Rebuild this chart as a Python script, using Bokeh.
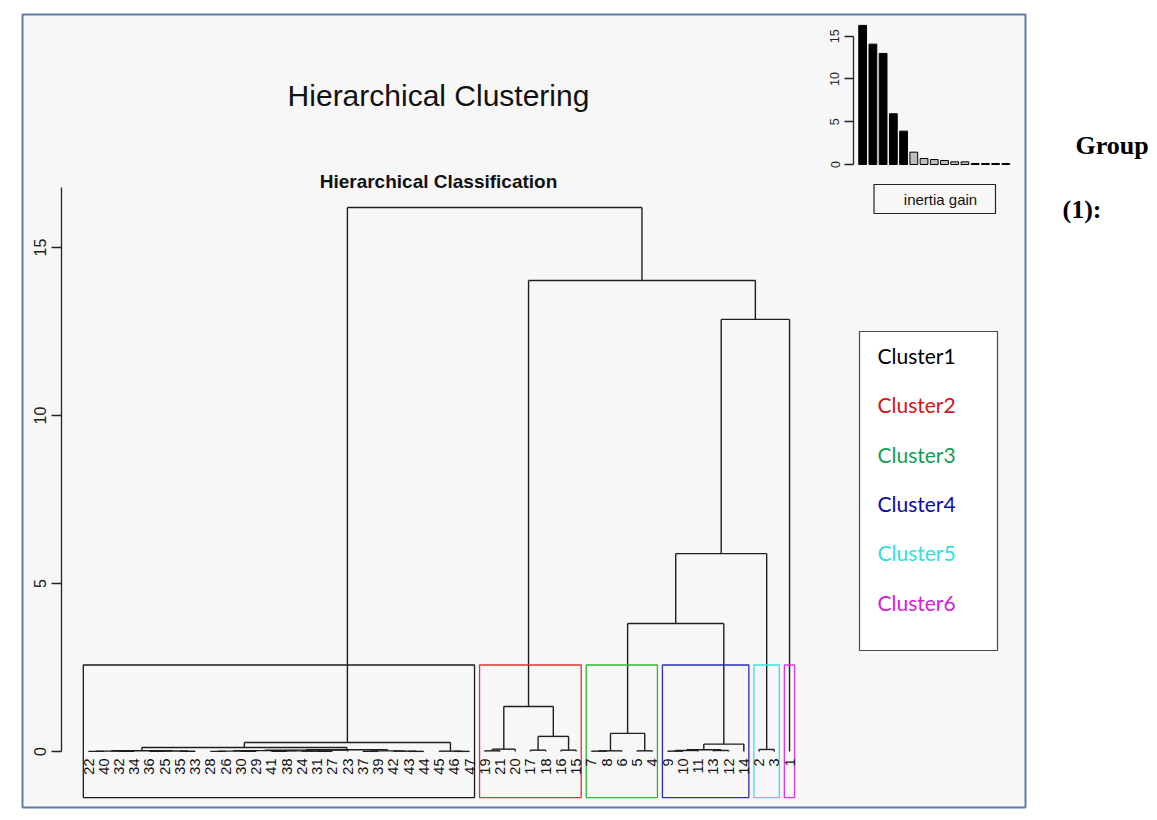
import math
from bokeh.plotting import figure
from bokeh.models import Range1d, LinearAxis, FixedTicker
from bokeh.core.properties import value
from bokeh.embed import file_html
from bokeh.resources import INLINE

# ---------------- data ----------------
leaf_order = [22, 40, 32, 34, 36, 25, 35, 33, 28, 26, 30, 29, 41, 38, 24, 31, 27, 23,
              37, 39, 42, 43, 44, 45, 46, 47, 19, 21, 20, 17, 18, 16, 15, 7, 8, 6, 5, 4,
              9, 10, 11, 13, 12, 14, 2, 3, 1]

# hclust-style merge table: negative = observation label, positive = merge step (1-based)
merge_left = [-22, -32, -36, -35, 1, 3, 5, -28, -30, 8, -41, -31, -24, 11, 10, 15,
              -37, -43, -42, 17, 16, 7, -46, -45, 22,
              -19, 26, -17, -16, 28, 27,
              -7, 32, -5, 33,
              -9, 36, -13, 37, 39,
              -2,
              35, 42, 43, 31, 25]
merge_right = [-40, -34, -25, -33, 2, 4, 6, -26, -29, 9, -38, -27, 12, 13, 14, -23,
               -39, -44, 18, 19, 20, 21, -47, 23, 24,
               -21, -20, -18, -15, 29, 30,
               -8, -6, -4, 34,
               -10, -11, -12, 38, -14,
               -3,
               40, 41, -1, 44, 45]
merge_height = [0.004, 0.006, 0.005, 0.007, 0.012, 0.014, 0.022, 0.004, 0.006, 0.012,
                0.006, 0.005, 0.010, 0.018, 0.025, 0.040, 0.005, 0.004, 0.010, 0.020,
                0.050, 0.12, 0.004, 0.010, 0.27,
                0.02, 0.07, 0.04, 0.04, 0.45, 1.34,
                0.01, 0.02, 0.02, 0.54,
                0.01, 0.03, 0.03, 0.05, 0.22,
                0.06,
                3.81, 5.89, 12.86, 14.02, 16.19]

cluster_sizes = [26, 7, 5, 6, 2, 1]
cluster_names = ["Cluster1", "Cluster2", "Cluster3", "Cluster4", "Cluster5", "Cluster6"]
rect_colors = ["#1a1a1a", "#dd3535", "#30b830", "#2d2db5", "#35e3e3", "#e035e0"]
legend_colors = ["#000000", "#d41515", "#169c50", "#0c0ca0", "#30e0e0", "#d420d4"]
rect_bottom = -1.37

inertia_gain = [16.26, 14.07, 12.98, 5.93, 3.90, 1.44, 0.70, 0.58, 0.47, 0.31, 0.31,
                0.12, 0.12, 0.12, 0.12]
n_black_bars = 5

main_ticks = [0, 5, 10, 15]
inset_ticks = [0, 5, 10, 15]

title_text = "Hierarchical Clustering"
subtitle_text = "Hierarchical Classification"
inset_legend_text = "inertia gain"
side_texts = ["Group", "(1):"]

# ---------------- geometry helpers (image pixel -> data) ----------------
W, H = 1152, 815
OFF = 0
PX0, PXS = 88.0, 15.24     # leaf position 0 at image x 88, 15.24 px per leaf
PY0, PYS = 751.0, 33.6     # height 0 at image y 751, 33.6 px per unit
IX0, IXS = 862.15, 10.23   # inset bar 1 centre
IY0, IYS = 164.0, 8.555    # inset value 0


def X(px):
    return (px - PX0) / PXS


def Y(py):
    return (PY0 - py) / PYS


def IX(px):
    return (px - IX0) / IXS + 1


def IY(py):
    return (IY0 - py) / IYS


p = figure(width=W, height=H, output_backend="svg", toolbar_location=None,
           x_range=Range1d(X(OFF), X(OFF + W)), y_range=Range1d(Y(OFF + H), Y(OFF)),
           x_axis_type=None, y_axis_type=None, min_border=0, title=None)
p.extra_x_ranges = {"ix": Range1d(IX(OFF), IX(OFF + W))}
p.extra_y_ranges = {"iy": Range1d(IY(OFF + H), IY(OFF))}
p.outline_line_color = None
p.background_fill_color = "white"
p.border_fill_color = "white"
p.grid.visible = False

# outer frame
p.quad(left=[X(22)], right=[X(1025)], top=[Y(14)], bottom=[Y(807)],
       fill_color="#f7f7f8", line_color="#5d7ca8", line_width=2)

# ---------------- dendrogram ----------------
pos = {lab: i for i, lab in enumerate(leaf_order)}
node_x, node_h = [], []
x0s, y0s, x1s, y1s = [], [], [], []
for a, b, h in zip(merge_left, merge_right, merge_height):
    def child(c):
        if c < 0:
            return pos[-c], 0.0
        return node_x[c - 1], node_h[c - 1]
    xa, ha = child(a)
    xb, hb = child(b)
    x0s += [xa, xa, xb]
    y0s += [ha, h, hb]
    x1s += [xa, xb, xb]
    y1s += [h, h, h]
    node_x.append((xa + xb) / 2)
    node_h.append(h)

p.segment(x0=x0s, y0=y0s, x1=x1s, y1=y1s, line_color="#1e1e1e", line_width=1.4)

# cluster rectangles
sorted_h = sorted(merge_height, reverse=True)
k = len(cluster_sizes)
rect_top = (sorted_h[k - 2] + sorted_h[k - 1]) / 2
cum = [0]
for s in cluster_sizes:
    cum.append(cum[-1] + s)
p.quad(left=[cum[i] - 0.34 for i in range(k)],
       right=[cum[i + 1] - 1 + 0.33 for i in range(k)],
       top=[rect_top] * k, bottom=[rect_bottom] * k,
       fill_color=None, line_color=rect_colors, line_width=1.3)

# leaf labels
p.text(x=list(range(len(leaf_order))), y=[Y(758)] * len(leaf_order),
       text=[str(v) for v in leaf_order], angle=math.pi / 2,
       text_align="right", text_baseline="middle",
       text_font=value("Liberation Sans"), text_font_size="14.5px", text_color="#111111")

# main y axis
ax = LinearAxis(fixed_location=X(60.5), bounds=(0, 16.8),
                ticker=FixedTicker(ticks=main_ticks))
ax.major_label_orientation = "vertical"
ax.major_tick_out = 10
ax.major_tick_in = 0
ax.minor_tick_out = 0
ax.minor_tick_in = 0
ax.major_label_standoff = 5
ax.major_label_text_font = "Liberation Sans"
ax.major_label_text_font_size = "16px"
ax.major_label_text_color = "#222222"
ax.axis_line_color = "#222222"
ax.axis_line_width = 1.3
ax.major_tick_line_color = "#222222"
ax.major_tick_line_width = 1.3
p.add_layout(ax, "left")

# titles
p.text(x=[X(438)], y=[Y(95)], text=[title_text], text_align="center", text_baseline="middle",
       text_font=value("Liberation Sans"), text_font_size="30px", text_color="#111111")
p.text(x=[X(438)], y=[Y(181)], text=[subtitle_text], text_align="center",
       text_baseline="middle", text_font=value("Liberation Sans"), text_font_size="19px",
       text_font_style="bold", text_color="#111111")

# legend box
p.quad(left=[X(859)], right=[X(997)], top=[Y(331)], bottom=[Y(650)],
       fill_color="white", line_color="#4a4a4a", line_width=1.2)
p.text(x=[X(877)] * k, y=[Y(355 + 49.3 * i) for i in range(k)], text=cluster_names,
       text_color=legend_colors, text_align="left", text_baseline="middle",
       text_font=value("Lato"), text_font_size="21px")

# ---------------- inset: inertia gain ----------------
bar_fill = ["#000000"] * n_black_bars + ["#bebebe"] * (len(inertia_gain) - n_black_bars)
p.vbar(x=list(range(1, len(inertia_gain) + 1)), top=inertia_gain, bottom=0, width=0.76,
       fill_color=bar_fill, line_color="#000000", line_width=1,
       x_range_name="ix", y_range_name="iy")

iax = LinearAxis(x_range_name="ix", y_range_name="iy", fixed_location=IX(853),
                 bounds=(0, 15), ticker=FixedTicker(ticks=inset_ticks))
iax.major_label_orientation = "vertical"
iax.major_tick_out = 9
iax.major_tick_in = 0
iax.minor_tick_out = 0
iax.minor_tick_in = 0
iax.major_label_standoff = 5
iax.major_label_text_font = "Liberation Sans"
iax.major_label_text_font_size = "12.5px"
iax.major_label_text_color = "#222222"
iax.axis_line_color = "#222222"
iax.axis_line_width = 1.3
iax.major_tick_line_color = "#222222"
iax.major_tick_line_width = 1.3
p.add_layout(iax, "left")

p.quad(left=[X(873.5)], right=[X(995)], top=[Y(184)], bottom=[Y(213)],
       fill_color="#f7f7f8", line_color="#222222", line_width=1.2)
p.text(x=[X(940)], y=[Y(199)], text=[inset_legend_text], text_align="center",
       text_baseline="middle", text_font=value("Liberation Sans"), text_font_size="15px",
       text_color="#111111")

# side text outside the frame
p.text(x=[X(1075), X(1062)], y=[Y(145), Y(209)], text=side_texts, text_align="left",
       text_baseline="middle", text_font=value("Liberation Serif"), text_font_size="26px",
       text_font_style="bold", text_color="#000000")

open("out.html", "w").write(file_html(p, INLINE))
